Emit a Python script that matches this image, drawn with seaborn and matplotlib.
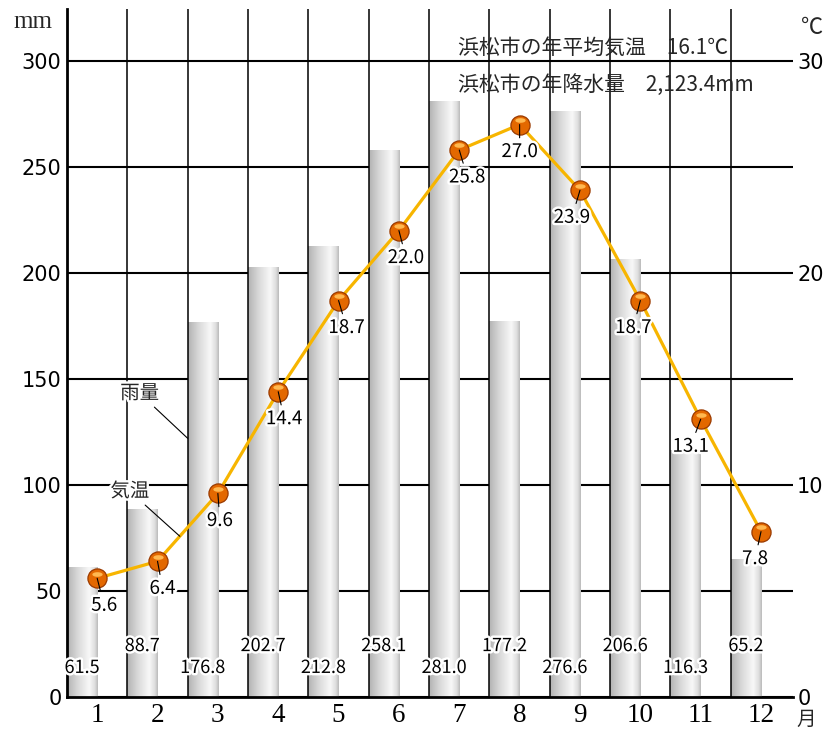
import numpy as np
import pandas as pd
import matplotlib
matplotlib.use('Agg')
import matplotlib.pyplot as plt
import matplotlib.patheffects as pe
import matplotlib.transforms as mtrans
from matplotlib.colors import LinearSegmentedColormap
import seaborn as sns

# ---- data (浜松市の雨温図) ----
months = [1, 2, 3, 4, 5, 6, 7, 8, 9, 10, 11, 12]
month_labels = ['1', '2', '3', '4', '5', '6', '7', '8', '9', '10', '11', '12']
rain = [61.5, 88.7, 176.8, 202.7, 212.8, 258.1, 281.0, 177.2, 276.6, 206.6, 116.3, 65.2]
temp = [5.6, 6.4, 9.6, 14.4, 18.7, 22.0, 25.8, 27.0, 23.9, 18.7, 13.1, 7.8]
rain_ticks = [0, 50, 100, 150, 200, 250, 300]
temp_ticks = [0, 10, 20, 30]
title_temp = '浜松市の年平均気温　16.1℃'
title_rain = '浜松市の年降水量　2,123.4mm'

# label placement (style only)
temp_dx = [7, 5, 2, 6, 8, 7, 8, 0, -8, -7, -10, -6]
bar_label_level = [13.7, 24.0] * 6

sns.set_theme(style='white')
plt.rcParams['font.family'] = ['Noto Sans CJK JP', 'DejaVu Sans']

W, H = 839, 729
fig = plt.figure(figsize=(W / 100, H / 100), dpi=100)
ax = fig.add_axes([67 / W, 32 / H, (793 - 67) / W, (697 - 9) / H])

df = pd.DataFrame({'month': months, 'rain': rain, 'temp': temp})
df['bar_x'] = df['month'] - 0.25

sns.barplot(data=df, x='bar_x', y='rain', native_scale=True, width=0.5,
            color='#cccccc', errorbar=None, ax=ax)

# cylinder-like gray gradient on each bar
cyl = LinearSegmentedColormap.from_list(
    'cyl', [(0.0, '#b2b2b2'), (0.35, '#d9d9d9'), (0.72, '#f8f8f8'),
            (0.9, '#dedede'), (1.0, '#bababa')])
grad = np.linspace(0, 1, 256).reshape(1, -1)
for bar in list(ax.patches):
    x0, y0 = bar.get_x(), bar.get_y()
    w, h = bar.get_width(), bar.get_height()
    im = ax.imshow(grad, extent=[x0, x0 + w, y0, y0 + h], aspect='auto',
                   cmap=cyl, origin='lower', zorder=2)
    im.set_clip_path(bar)
    bar.set_facecolor('none')
    bar.set_edgecolor('none')

ax.set_xlim(0.5, 12.53)
ax.set_ylim(0, 324.5)
ax.set_yticks(rain_ticks)
ax.set_yticklabels([str(v) for v in rain_ticks], fontfamily='DejaVu Sans', fontsize=15)
ax.set_xticks(months)
ax.set_xticklabels(month_labels, fontfamily='Liberation Serif', fontsize=19.5)
ax.set_xticks(np.arange(0.5, 12, 1), minor=True)
ax.set_xlabel('')
ax.set_ylabel('')
ax.grid(axis='y', which='major', color='black', lw=1.5)
ax.set_axisbelow(True)
ax.tick_params(which='both', length=0)
ax.tick_params(axis='y', pad=4, colors='black')
ax.tick_params(axis='x', pad=4, colors='black')
for s in ['top', 'right']:
    ax.spines[s].set_visible(False)
for s in ['left', 'bottom']:
    ax.spines[s].set_color('black')
    ax.spines[s].set_linewidth(2)

# ---- temperature on twin axis ----
ax2 = ax.twinx()
ax2.set_ylim(0, 32.45)
ax2.set_yticks(temp_ticks)
ax2.set_yticklabels([str(v) for v in temp_ticks], fontfamily='DejaVu Sans', fontsize=15)
ax2.tick_params(axis='y', length=0, pad=3, colors='black')
for s in ax2.spines.values():
    s.set_visible(False)
ax2.grid(False)
# month boundaries drawn on the upper axes so they sit over the bars
ax2.xaxis.set_visible(True)
ax2.set_xticks(np.arange(0.5, 12, 1), minor=True)
ax2.tick_params(axis='x', which='both', length=0, labelbottom=False, labeltop=False)
ax2.grid(axis='x', which='minor', color='black', lw=1.1)
ax2.grid(axis='x', which='major', visible=False)
ax2.set_axisbelow(True)

stroke = [pe.withStroke(linewidth=3.5, foreground='white')]
# rainfall labels (in mm units) placed on the top axes so they cover the grid
for m, r, ly in zip(months, rain, bar_label_level):
    ax2.text(m - 0.25, ly, f'{r:.1f}', transform=ax.transData, ha='center',
             va='center', fontsize=13, color='black', zorder=6, path_effects=stroke)

sns.lineplot(data=df, x='month', y='temp', ax=ax2, color='#f7b500', lw=2.3, zorder=3)
sns.scatterplot(data=df, x='month', y='temp', ax=ax2, s=190, color='#e36800',
                edgecolor='#9a3a00', linewidth=0.9, zorder=4, legend=False)
t = np.linspace(0, 2 * np.pi, 40)
ellipse = np.column_stack([np.cos(t), 0.45 * np.sin(t)])
shift = mtrans.ScaledTranslation(0, 0.045, fig.dpi_scale_trans)
hl = ax2.scatter(df['month'], df['temp'], s=55, marker=ellipse, color='#ffb850',
                 linewidths=0, zorder=4.5)
hl.set_offset_transform(ax2.transData + shift)
ax2.set_xlabel('')
ax2.set_ylabel('')
ax2.set_xlim(0.5, 12.53)

for m, tv, dx in zip(months, temp, temp_dx):
    ax2.annotate(f'{tv:.1f}', xy=(m, tv), xytext=(dx, -27), textcoords='offset pixels',
                 ha='center', va='center', fontsize=13.5, color='black', zorder=6,
                 path_effects=stroke,
                 arrowprops=dict(arrowstyle='-', color='black', lw=0.8,
                                 shrinkA=0, shrinkB=0))

# legend-like callouts
ax2.annotate('雨量', xy=(2.5, 122), xycoords=ax.transData, xytext=(-48, 45),
             textcoords='offset pixels', ha='center', va='center', fontsize=14,
             zorder=6, path_effects=stroke,
             arrowprops=dict(arrowstyle='-', color='black', lw=0.8, shrinkA=0, shrinkB=0))
ax2.annotate('気温', xy=(2.37, 7.58), xytext=(-50, 45), textcoords='offset pixels',
             ha='center', va='center', fontsize=14, zorder=6, path_effects=stroke,
             arrowprops=dict(arrowstyle='-', color='black', lw=0.8, shrinkA=0, shrinkB=0))

# titles and units
fig.text(458 / W, 1 - 48 / H, title_temp, ha='left', va='center', fontsize=15)
fig.text(458 / W, 1 - 85 / H, title_rain, ha='left', va='center', fontsize=15)
fig.text(33 / W, 1 - 22 / H, 'mm', ha='center', va='center', fontsize=18,
         fontfamily='Liberation Serif')
fig.text(812 / W, 1 - 27 / H, '℃', ha='center', va='center', fontsize=16)
fig.text(806 / W, 1 - 719 / H, '月', ha='center', va='center', fontsize=14)

fig.savefig('out.png', dpi=100)
